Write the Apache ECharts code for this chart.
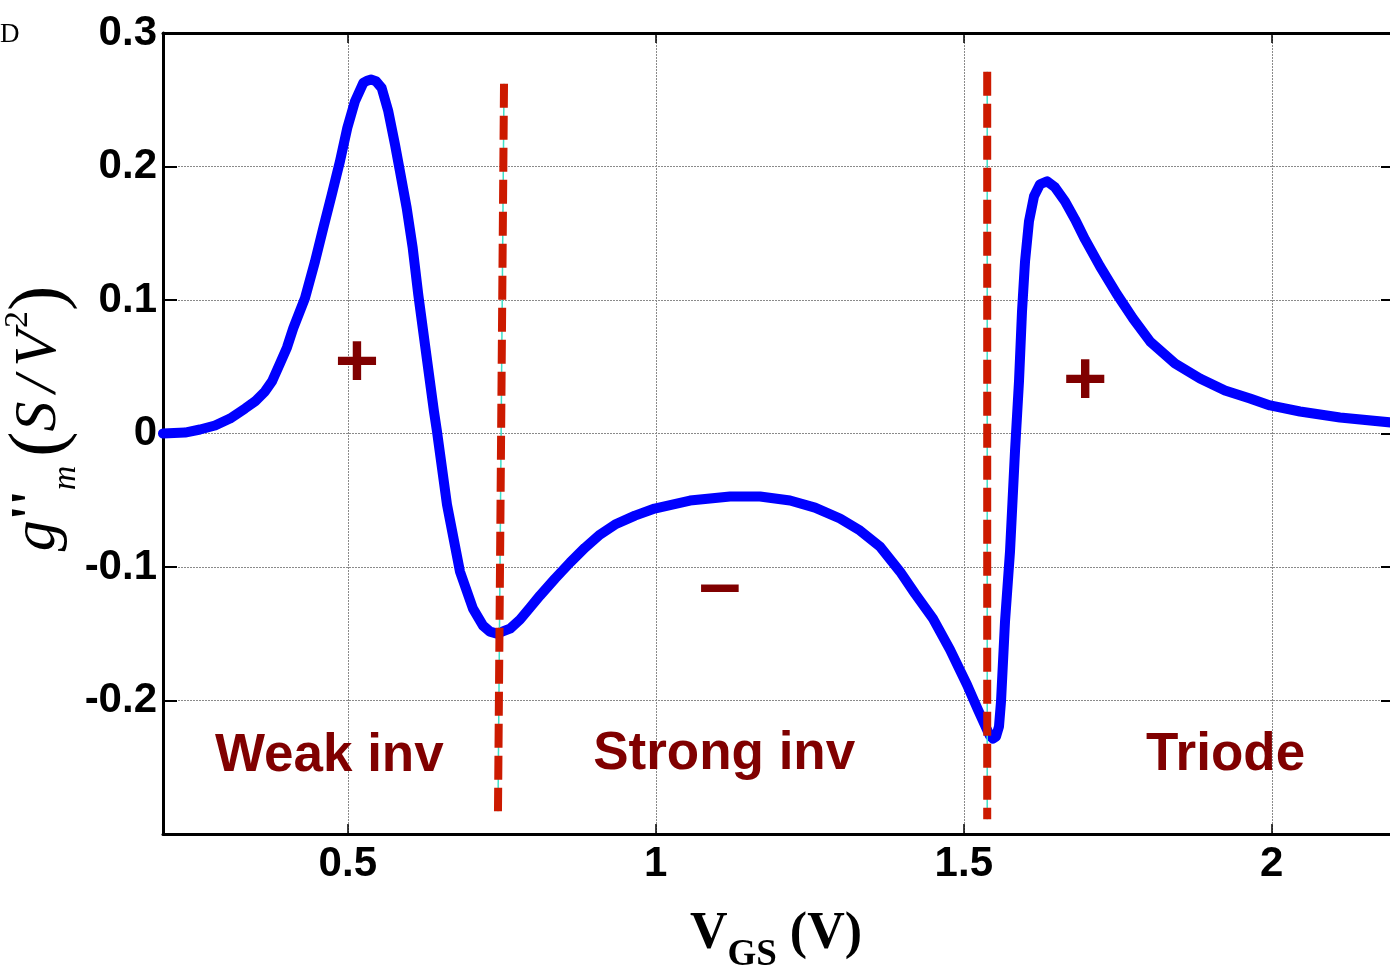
<!DOCTYPE html>
<html>
<head>
<meta charset="utf-8">
<title>g''m versus VGS</title>
<style>
  html, body { margin: 0; padding: 0; background: #ffffff; }
  #chart { width: 1390px; height: 967px; }
</style>
<script src="https://cdn.jsdelivr.net/npm/echarts@6/dist/echarts.min.js"></script>
</head>
<body>
<div id="chart"></div>
<script>
// Gate voltage sweep (V)
const vgs = [
  0.2000, 0.2357, 0.2601, 0.2844, 0.3088, 0.3331, 0.3494, 0.3656, 0.3769, 0.3899,
  0.4013, 0.4115, 0.4305, 0.4468, 0.4602, 0.4739, 0.4873, 0.4992, 0.5117, 0.5252,
  0.5312, 0.5377, 0.5458, 0.5550, 0.5657, 0.5766, 0.5847, 0.5956, 0.6054, 0.6144,
  0.6253, 0.6399, 0.6448, 0.6610, 0.6821, 0.7032, 0.7195, 0.7308, 0.7422, 0.7633,
  0.7795, 0.7958, 0.8120, 0.8364, 0.8607, 0.8851, 0.9094, 0.9338, 0.9662, 0.9981,
  1.0555, 1.1205, 1.1692, 1.2179, 1.2584, 1.2990, 1.3315, 1.3640, 1.3964, 1.4208,
  1.4500, 1.4776, 1.5052, 1.5230, 1.5377, 1.5425, 1.5474, 1.5523, 1.5571, 1.5604,
  1.5669, 1.5750, 1.5831, 1.5896, 1.5945, 1.5994, 1.6058, 1.6140, 1.6237, 1.6351,
  1.6481, 1.6643, 1.6805, 1.6968, 1.7211, 1.7487, 1.7747, 1.8023, 1.8429, 1.8834,
  1.9240, 1.9646, 1.9971, 2.0458, 2.1107, 2.1951
];
// Second derivative of transconductance g''m (S/V^2)
const gm2 = [
  0.0000, 0.0007, 0.0030, 0.0060, 0.0112, 0.0187, 0.0240, 0.0315, 0.0390, 0.0525,
  0.0645, 0.0789, 0.1014, 0.1289, 0.1539, 0.1789, 0.2039, 0.2289, 0.2489, 0.2626,
  0.2642, 0.2651, 0.2639, 0.2588, 0.2414, 0.2164, 0.1964, 0.1689, 0.1389, 0.1040,
  0.0665, 0.0165, 0.0015, -0.0532, -0.1034, -0.1312, -0.1439, -0.1484, -0.1499, -0.1462,
  -0.1394, -0.1304, -0.1214, -0.1087, -0.0967, -0.0855, -0.0757, -0.0682, -0.0615, -0.0562,
  -0.0502, -0.0472, -0.0472, -0.0502, -0.0555, -0.0637, -0.0727, -0.0847, -0.1034, -0.1199,
  -0.1387, -0.1619, -0.1882, -0.2069, -0.2219, -0.2264, -0.2286, -0.2271, -0.2196, -0.2009,
  -0.1409, -0.0885, -0.0135, 0.0390, 0.0915, 0.1289, 0.1589, 0.1777, 0.1867, 0.1889,
  0.1844, 0.1739, 0.1604, 0.1454, 0.1252, 0.1042, 0.0862, 0.0690, 0.0525, 0.0412,
  0.0322, 0.0262, 0.0210, 0.0165, 0.0120, 0.0082
];

// Axis ticks
const xTicks = [0.5, 1, 1.5, 2];
const yMin = -0.3, yMax = 0.3, yStep = 0.1;

// Region boundaries (weak/strong inversion, strong inversion/triode)
const boundaryWeakX = [0.7536, 0.7438];
const boundaryWeakY = [0.262, -0.283];
const boundaryTriodeX = [1.538, 1.538];
const boundaryTriodeY = [0.271, -0.289];

// Region names and sign markers
const regionNames = ['Weak inv', 'Strong inv', 'Triode'];
const regionX = [0.470, 1.111, 1.925];
const regionY = [-0.242, -0.240, -0.241];
const signNames = ['+', '\u2013', '+'];
const signX = [0.515, 1.104, 1.697];
const signY = [0.051, -0.116, 0.038];

const zip = (a, b) => a.map((v, i) => [v, b[i]]);

const sansBold = { fontFamily: 'Liberation Sans', fontWeight: 'bold' };
const gridLine = { show: true, lineStyle: { color: '#8a8a8a', width: 1, type: [2, 1] } };
const frameLine = { show: true, onZero: false, lineStyle: { color: '#000000', width: 3 } };
const serif = 'Liberation Serif';

const chart = echarts.init(document.getElementById('chart'), null, { renderer: 'canvas' });

chart.setOption({
  animation: false,
  backgroundColor: '#ffffff',
  grid: { left: 163, right: -5, top: 33, bottom: 133, containLabel: false, outerBoundsMode: 'none' },
  graphic: [{
    type: 'text', left: 0, top: 21,
    style: { text: 'D', font: '27px "Liberation Serif"', fill: '#000000' }
  }],
  xAxis: [{
    type: 'value', position: 'bottom', min: 0.2, max: 2.2,
    axisLine: frameLine,
    axisTick: { show: true, inside: true, length: 10, customValues: xTicks,
                lineStyle: { color: '#000000', width: 1.5 } },
    axisLabel: { show: true, customValues: xTicks, margin: 9, fontSize: 42, color: '#000000',
                 ...sansBold, formatter: v => String(v) },
    splitLine: gridLine,
    name: '{v|V}{s|GS}{v| (V)}',
    nameLocation: 'middle', nameGap: 75,
    nameTextStyle: {
      padding: [0, 6, 0, 0],
      rich: {
        v: { fontFamily: serif, fontWeight: 'bold', fontSize: 52, color: '#000000',
             verticalAlign: 'bottom', padding: [0, 0, 13, 0] },
        s: { fontFamily: serif, fontWeight: 'bold', fontSize: 37, color: '#000000',
             verticalAlign: 'bottom' }
      }
    }
  }, {
    type: 'value', position: 'top', min: 0.2, max: 2.2,
    axisLine: frameLine,
    axisTick: { show: true, inside: true, length: 10, customValues: xTicks,
                lineStyle: { color: '#000000', width: 1.5 } },
    axisLabel: { show: false },
    splitLine: { show: false }
  }],
  yAxis: [{
    type: 'value', position: 'left', min: yMin, max: yMax, interval: yStep,
    axisLine: frameLine,
    axisTick: { show: true, inside: true, length: 14, lineStyle: { color: '#000000', width: 2 } },
    axisLabel: { show: true, margin: 6, fontSize: 42, color: '#000000', ...sansBold,
                 showMinLabel: false, showMaxLabel: true,
                 formatter: v => (Math.abs(v - yMin) < 1e-9 ? '' : String(+v.toFixed(1))) },
    splitLine: gridLine,
    name: '{g|g}{p|\'\'}{m|m}{sp| }{b|(}{t|S}{sp| }{t|/}{sp| }{t|V}{u|2}{b|)}',
    nameLocation: 'middle', nameRotate: 90, nameGap: 80, nameMoveOverlap: false,
    nameTextStyle: {
      padding: [0, 0, 0, 30],
      rich: {
        g: { fontFamily: serif, fontStyle: 'italic', fontSize: 62, color: '#000000',
             verticalAlign: 'bottom', padding: [0, 0, 14, 0] },
        p: { fontFamily: serif, fontWeight: 'bold', fontSize: 54, color: '#000000',
             verticalAlign: 'bottom', padding: [0, 0, 22, 0] },
        m: { fontFamily: serif, fontStyle: 'italic', fontSize: 34, color: '#000000',
             verticalAlign: 'bottom', padding: [0, 0, 0, 0] },
        sp: { fontFamily: serif, fontSize: 36, color: '#000000', verticalAlign: 'bottom' },
        b: { fontFamily: serif, fontSize: 76, color: '#000000',
             verticalAlign: 'bottom', padding: [0, 0, 4, 0] },
        t: { fontFamily: serif, fontStyle: 'italic', fontSize: 60, color: '#000000',
             verticalAlign: 'bottom', padding: [0, 0, 14, 0] },
        u: { fontFamily: serif, fontSize: 34, color: '#000000',
             verticalAlign: 'bottom', padding: [0, 0, 48, 2] }
      }
    }
  }, {
    type: 'value', position: 'right', min: yMin, max: yMax, interval: yStep,
    axisLine: frameLine,
    axisTick: { show: true, inside: true, length: 14, lineStyle: { color: '#000000', width: 2 } },
    axisLabel: { show: false },
    splitLine: { show: false }
  }],
  series: [{
    name: "g''m",
    type: 'line',
    xAxisIndex: 0, yAxisIndex: 0,
    data: zip(vgs, gm2),
    showSymbol: false,
    clip: true,
    z: 3,
    lineStyle: { color: '#0000ff', width: 10, join: 'round', cap: 'round' }
  }, {
    type: 'line', data: zip(boundaryWeakX, boundaryWeakY), showSymbol: false, z: 4, silent: true,
    lineStyle: { color: '#3ee0c8', width: 1.5 }
  }, {
    type: 'line', data: zip(boundaryTriodeX, boundaryTriodeY), showSymbol: false, z: 4, silent: true,
    lineStyle: { color: '#3ee0c8', width: 1.5 }
  }, {
    type: 'line', data: zip(boundaryWeakX, boundaryWeakY), showSymbol: false, z: 5, silent: true,
    lineStyle: { color: '#cc1a00', width: 8, type: [24, 8], cap: 'butt' }
  }, {
    type: 'line', data: zip(boundaryTriodeX, boundaryTriodeY), showSymbol: false, z: 5, silent: true,
    lineStyle: { color: '#cc1a00', width: 8, type: [24, 8], cap: 'butt' }
  }, {
    type: 'scatter', z: 6, silent: true,
    symbolSize: 1, itemStyle: { color: 'rgba(0,0,0,0)', opacity: 1 },
    data: regionNames.map((n, i) => ({ name: n, value: [regionX[i], regionY[i]] })),
    label: { show: true, position: 'inside', formatter: '{b}', fontSize: 53, color: '#800000',
             opacity: 1, ...sansBold }
  }, {
    type: 'scatter', z: 6, silent: true,
    symbolSize: 1, itemStyle: { color: 'rgba(0,0,0,0)', opacity: 1 },
    data: signNames.map((n, i) => ({ name: n, value: [signX[i], signY[i]] })),
    label: { show: true, position: 'inside', formatter: '{b}', fontSize: 76, color: '#800000',
             opacity: 1, ...sansBold }
  }]
});
</script>
</body>
</html>
